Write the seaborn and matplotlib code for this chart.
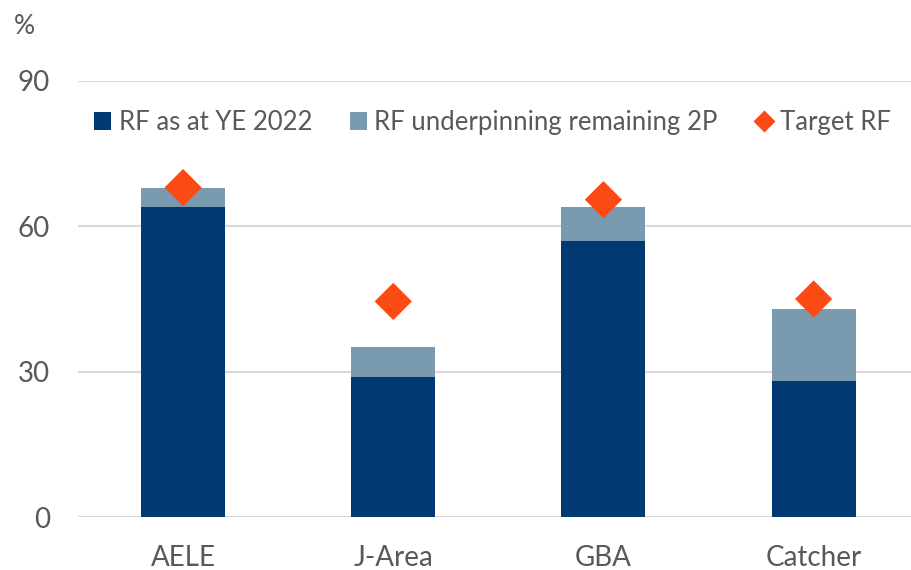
import matplotlib
matplotlib.use("Agg")
import matplotlib.pyplot as plt
import seaborn as sns
import pandas as pd
from matplotlib.patches import Patch
from matplotlib.lines import Line2D

fields = ["AELE", "J-Area", "GBA", "Catcher"]
rf_ye2022 = [64, 29, 57, 28]
rf_remaining_2p = [4, 6, 7, 15]
target_rf = [68, 44.5, 65.5, 45]
yticks = [0, 30, 60, 90]

dark = "#003A70"
light = "#7A9AAF"
orange = "#FC4A14"
text_col = "#595959"

sns.set_theme(style="white")
plt.rcParams["font.family"] = ["Lato", "DejaVu Sans"]

df = pd.DataFrame({
    "field": fields,
    "ye": rf_ye2022,
    "total": [a + b for a, b in zip(rf_ye2022, rf_remaining_2p)],
    "target": target_rf,
})

fig = plt.figure(figsize=(9.12, 5.7), dpi=100)
ax = fig.add_axes([78 / 912, 53 / 570, 1 - 78 / 912, (517 - 81) / 570])

ax.yaxis.grid(True, color="#d9d9d9", linewidth=1.5)
ax.set_axisbelow(True)

sns.barplot(data=df, x="field", y="total", color=light, width=0.4,
            saturation=1, ax=ax, zorder=2, edgecolor="none", linewidth=0)
sns.barplot(data=df, x="field", y="ye", color=dark, width=0.4,
            saturation=1, ax=ax, zorder=3, edgecolor="none", linewidth=0)
sns.scatterplot(data=df, x="field", y="target", marker="D", s=360,
                color=orange, edgecolor="none", ax=ax, zorder=4)

ax.set_ylim(0, 90)
ax.set_xlim(-0.5, 3.468)
ax.set_yticks(yticks)
ax.set_yticklabels([str(v) for v in yticks])
ax.set_xlabel("")
ax.set_ylabel("")
for s in ax.spines.values():
    s.set_visible(False)
ax.tick_params(axis="y", length=0, pad=20, labelsize=20, labelcolor=text_col)
ax.tick_params(axis="x", length=0, pad=20, labelsize=20, labelcolor=text_col)

fig.text(14 / 912, 1 - 26 / 570, "%", fontsize=19, color=text_col, va="center")

handles = [
    Patch(facecolor=dark, edgecolor="none"),
    Patch(facecolor=light, edgecolor="none"),
    Line2D([0], [0], marker="D", linestyle="none", markersize=11,
           markerfacecolor=orange, markeredgecolor="none"),
]
labels = ["RF as at YE 2022", "RF underpinning remaining 2P", "Target RF"]
leg = ax.legend(handles, labels, ncol=3, frameon=False,
                loc="center left", bbox_to_anchor=(-0.008, 0.905),
                fontsize=18.5, handlelength=0.66, handleheight=0.66,
                handletextpad=0.3, columnspacing=1.45,
                labelcolor=text_col)

fig.savefig("out.png", dpi=100)
